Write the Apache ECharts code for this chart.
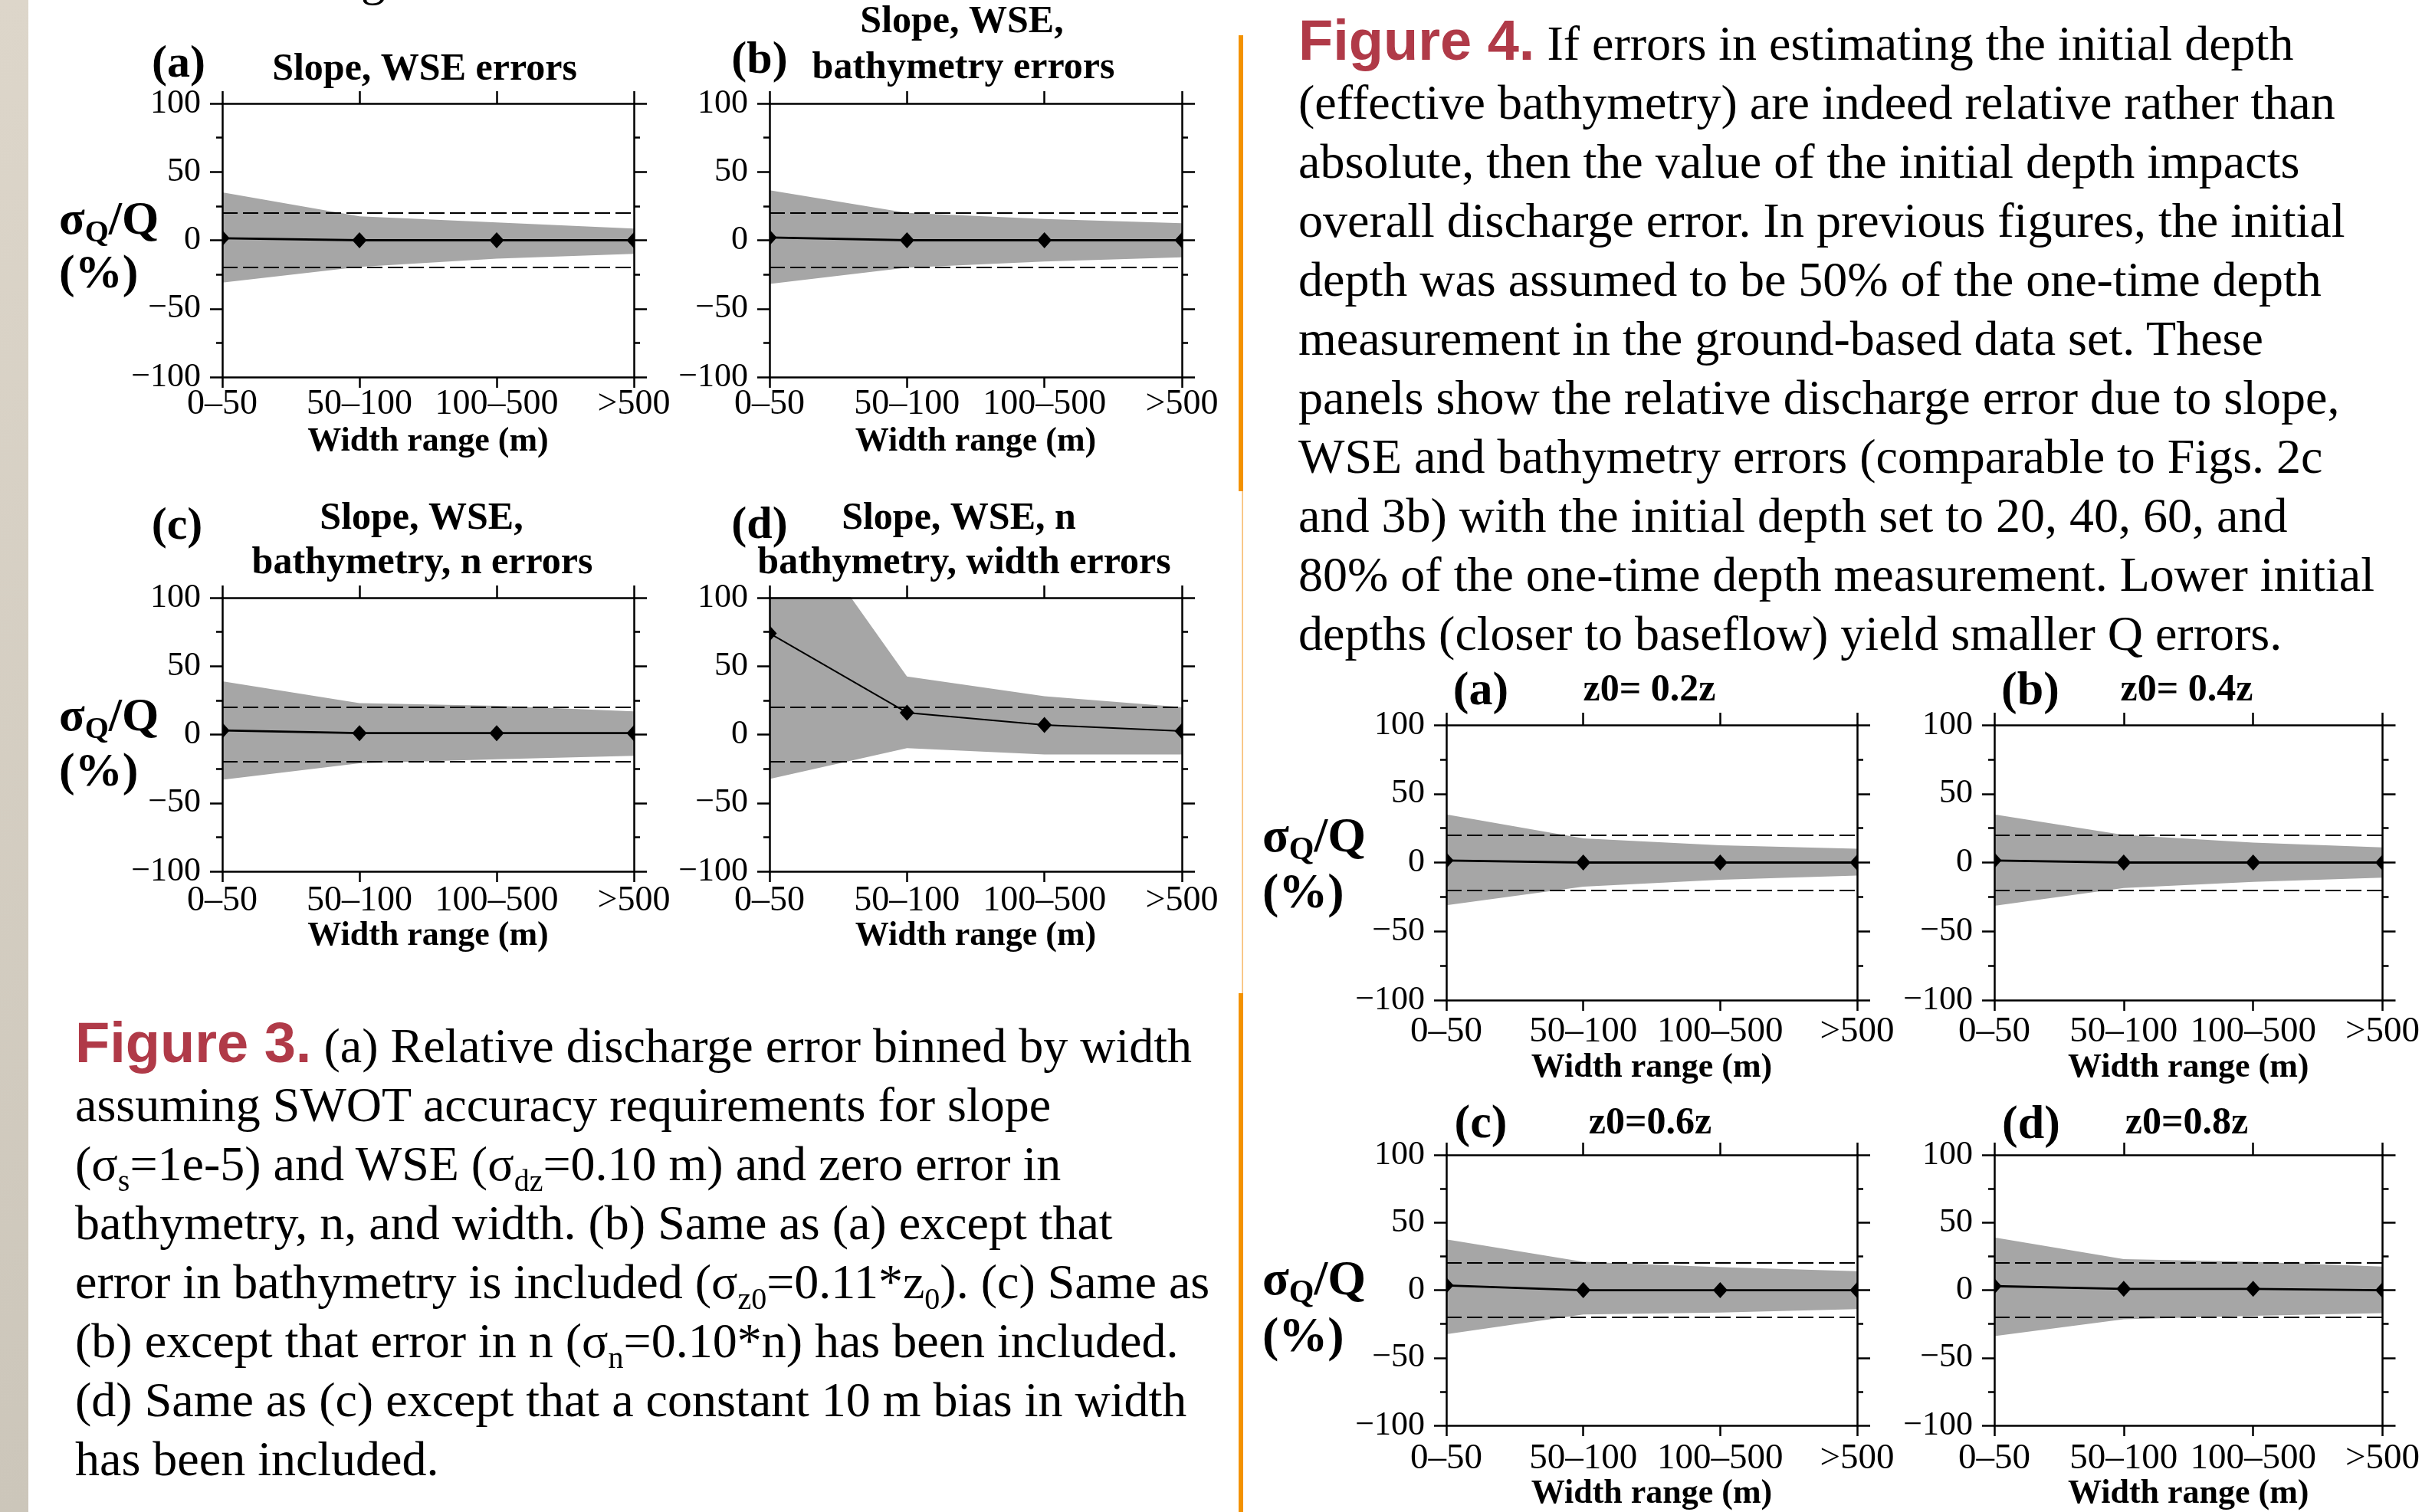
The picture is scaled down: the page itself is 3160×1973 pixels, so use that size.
<!DOCTYPE html>
<html>
<head>
<meta charset="utf-8">
<script src="https://cdn.jsdelivr.net/npm/echarts@6/dist/echarts.min.js"></script>
<style>
  html, body { margin:0; padding:0; background:#fff; }
  #wrap { position:relative; width:3160px; height:1973px; overflow:hidden; background:#fff; }
  #chart { position:absolute; left:0; top:0; width:3160px; height:1973px; }
  .txt { position:absolute; white-space:nowrap; color:#000; font-family:"Liberation Serif", "Times New Roman", serif; }
  .cap { font-size:64px; line-height:77px; }
  .fig { font-family:"Liberation Sans", Arial, sans-serif; font-weight:bold; font-size:74px; color:#b03a48; }
  .cap sub { font-size:40px; vertical-align:-14px; line-height:0; }
  .yname { font-weight:bold; }
  .yname sub { vertical-align:-10px; line-height:0; }
</style>
</head>
<body>
<div id="wrap">
  <div id="chart"></div>

  <div class="txt" style="left:471px; top:-60px; font-size:64px; line-height:64px;">g</div>

  <div class="txt yname" style="left:77px; top:249px; font-size:62px; line-height:70px;">σ<sub style="font-size:40px;">Q</sub>/Q<br>(%)</div>
  <div class="txt yname" style="left:77px; top:896px; font-size:62px; line-height:72px;">σ<sub style="font-size:40px;">Q</sub>/Q<br>(%)</div>
  <div class="txt yname" style="left:1647px; top:1053px; font-size:64px; line-height:73px;">σ<sub style="font-size:42px;">Q</sub>/Q<br>(%)</div>
  <div class="txt yname" style="left:1647px; top:1631px; font-size:64px; line-height:74px;">σ<sub style="font-size:42px;">Q</sub>/Q<br>(%)</div>

  <div class="txt cap" style="left:98px; top:1322px;"><span class="fig">Figure 3.</span> (a) Relative discharge error binned by width<br>assuming SWOT accuracy requirements for slope<br>(σ<sub>s</sub>=1e-5) and WSE (σ<sub>dz</sub>=0.10 m) and zero error in<br>bathymetry, n, and width. (b) Same as (a) except that<br>error in bathymetry is included (σ<sub>z0</sub>=0.11*z<sub>0</sub>). (c) Same as<br>(b) except that error in n (σ<sub>n</sub>=0.10*n) has been included.<br>(d) Same as (c) except that a constant 10 m bias in width<br>has been included.</div>

  <div class="txt cap" style="left:1694px; top:14px;"><span class="fig">Figure 4.</span> If errors in estimating the initial depth<br>(effective bathymetry) are indeed relative rather than<br>absolute, then the value of the initial depth impacts<br>overall discharge error. In previous figures, the initial<br>depth was assumed to be 50% of the one-time depth<br>measurement in the ground-based data set. These<br>panels show the relative discharge error due to slope,<br>WSE and bathymetry errors (comparable to Figs. 2c<br>and 3b) with the initial depth set to 20, 40, 60, and<br>80% of the one-time depth measurement. Lower initial<br>depths (closer to baseflow) yield smaller Q errors.</div>
</div>

<script>
// ---------------- DATA ----------------
const categories = ['0–50', '50–100', '100–500', '>500'];
const yMin = -100, yMax = 100, yStep = 50;
const thresholds = [20, -20];

// Figure 3
const f3aMean  = [1.5, 0, 0, 0];
const f3aUpper = [35, 17.5, 13, 8.5];
const f3aLower = [-31, -19.5, -13.5, -10];

const f3bMean  = [2, 0, 0, 0];
const f3bUpper = [36.5, 20, 15.5, 12.5];
const f3bLower = [-32, -20, -15.5, -12.5];

const f3cMean  = [3, 1, 1, 1];
const f3cUpper = [39, 23, 21, 17];
const f3cLower = [-33, -21, -18, -15.5];

const f3dMean  = [74, 16, 7, 2.5];
const f3dUpper = [184, 42.5, 28, 20];
const f3dLower = [-32.5, -10, -14.5, -14.5];

// Figure 4
const f4aMean  = [1.5, 0, 0, 0];
const f4aUpper = [35, 17.5, 12.5, 10];
const f4aLower = [-31, -17.5, -12.5, -9.5];

const f4bMean  = [1.5, 0, 0, 0];
const f4bUpper = [35, 20, 14.5, 11];
const f4bLower = [-31.5, -18.5, -14, -11];

const f4cMean  = [3.5, 0, 0, 0];
const f4cUpper = [37.5, 21, 17, 14];
const f4cLower = [-32.5, -18, -16.5, -14];

const f4dMean  = [3, 1, 1, 0];
const f4dUpper = [39, 23, 21, 17.5];
const f4dLower = [-34, -21.5, -19, -17];

// ---------------- LAYOUT ----------------
const panels = [
  { grid:{left:290, top:135, width:537, height:357}, lm:13, ng:63, xf:46, mean:f3aMean, up:f3aUpper, lo:f3aLower, mw:2.8 },
  { grid:{left:1004, top:135, width:538, height:357}, lm:13, ng:63, xf:46, mean:f3bMean, up:f3bUpper, lo:f3bLower, mw:2.8 },
  { grid:{left:290, top:780, width:537, height:357}, lm:16, ng:59, xf:46, mean:f3cMean, up:f3cUpper, lo:f3cLower, mw:2.8 },
  { grid:{left:1004, top:780, width:538, height:357}, lm:16, ng:59, xf:46, mean:f3dMean, up:f3dUpper, lo:f3dLower, mw:2 },
  { grid:{left:1887, top:946, width:536, height:359}, lm:18, ng:67, xf:47, mean:f4aMean, up:f4aUpper, lo:f4aLower, mw:2.8 },
  { grid:{left:2602, top:946, width:536, height:359}, lm:18, ng:67, xf:47, mean:f4bMean, up:f4bUpper, lo:f4bLower, mw:2.8 },
  { grid:{left:1887, top:1507, width:536, height:357}, lm:20, ng:56, xf:47, mean:f4cMean, up:f4cUpper, lo:f4cLower, mw:2.8 },
  { grid:{left:2602, top:1507, width:536, height:357}, lm:20, ng:56, xf:47, mean:f4dMean, up:f4dUpper, lo:f4dLower, mw:2.8 }
];

const titles = [
  {t:'(a)', x:233, y:84, s:60}, {t:'Slope, WSE errors', x:554, y:91, s:50},
  {t:'(b)', x:991, y:79, s:60}, {t:'Slope, WSE,', x:1255, y:29, s:50}, {t:'bathymetry errors', x:1257, y:89, s:50},
  {t:'(c)', x:231, y:687, s:60}, {t:'Slope, WSE,', x:550, y:677, s:50}, {t:'bathymetry, n errors', x:551, y:735, s:50},
  {t:'(d)', x:991, y:686, s:60}, {t:'Slope, WSE, n', x:1251, y:677, s:50}, {t:'bathymetry, width errors', x:1258, y:735, s:50},
  {t:'(a)', x:1932, y:903, s:62}, {t:'z0= 0.2z', x:2152, y:901, s:50},
  {t:'(b)', x:2649, y:903, s:62}, {t:'z0= 0.4z', x:2853, y:901, s:50},
  {t:'(c)', x:1932, y:1468, s:62}, {t:'z0=0.6z', x:2153, y:1466, s:50},
  {t:'(d)', x:2650, y:1469, s:62}, {t:'z0=0.8z', x:2853, y:1466, s:50}
];

const FONT = '"Liberation Serif", "Times New Roman", serif';
const BAND = '#a6a6a6';
const AX = { lineStyle:{ color:'#000', width:2.5 } };

const option = {
  animation:false,
  backgroundColor:'#fff',
  grid:[], xAxis:[], yAxis:[], series:[],
  graphic:[]
};

function diamond(params, api) {
  const c = api.coord([api.value(0), api.value(1)]);
  const hw = 9.5, hh = 10.5;
  return {
    type:'polygon',
    shape:{ points:[[c[0], c[1]-hh], [c[0]+hw, c[1]], [c[0], c[1]+hh], [c[0]-hw, c[1]]] },
    style:{ fill:'#000' }
  };
}

panels.forEach((p, i) => {
  option.grid.push(Object.assign({ containLabel:false }, p.grid));
  option.xAxis.push({
    type:'category', data:categories, boundaryGap:false, gridIndex:i, position:'bottom', z:10,
    axisLine:Object.assign({ onZero:false }, AX),
    axisTick:{ show:true, inside:false, length:14, alignWithLabel:true, lineStyle:{color:'#000', width:2.5} },
    axisLabel:{ show:true, interval:0, margin:p.lm, color:'#000', fontFamily:FONT, fontSize:p.xf },
    splitLine:{show:false},
    name:'Width range (m)', nameLocation:'middle', nameGap:p.ng,
    nameTextStyle:{ color:'#000', fontFamily:FONT, fontSize:44, fontWeight:'bold' }
  });
  option.xAxis.push({
    type:'category', data:categories, boundaryGap:false, gridIndex:i, position:'top', z:10,
    axisLine:Object.assign({ onZero:false }, AX),
    axisTick:{ show:true, inside:false, length:16, lineStyle:{color:'#000', width:2.5} },
    axisLabel:{ show:false }, splitLine:{show:false}
  });
  option.yAxis.push({
    type:'value', min:yMin, max:yMax, interval:yStep, gridIndex:i, position:'left', z:10,
    axisLine:Object.assign({ show:true, onZero:false }, AX),
    axisTick:{ show:true, inside:false, length:16, lineStyle:{color:'#000', width:2.5} },
    minorTick:{ show:true, splitNumber:2, length:8, lineStyle:{color:'#000', width:2.5} },
    axisLabel:{ show:true, margin:28, color:'#000', fontFamily:FONT, fontSize:44,
      formatter:v => String(v).replace('-', '\u2212') },
    splitLine:{show:false}, minorSplitLine:{show:false}
  });
  option.yAxis.push({
    type:'value', min:yMin, max:yMax, interval:yStep, gridIndex:i, position:'right', z:10,
    axisLine:Object.assign({ show:true, onZero:false }, AX),
    axisTick:{ show:true, inside:false, length:17, lineStyle:{color:'#000', width:2.5} },
    minorTick:{ show:true, splitNumber:2, length:8, lineStyle:{color:'#000', width:2.5} },
    axisLabel:{ show:false }, splitLine:{show:false}, minorSplitLine:{show:false}
  });

  const xi = i * 2, yi = i * 2;
  const spread = p.up.map((u, k) => u - p.lo[k]);
  option.series.push({
    type:'line', xAxisIndex:xi, yAxisIndex:yi, data:p.lo, stack:'band'+i, stackStrategy:'all',
    symbol:'none', lineStyle:{opacity:0}, silent:true, z:1, clip:true
  });
  option.series.push({
    type:'line', xAxisIndex:xi, yAxisIndex:yi, data:spread, stack:'band'+i, stackStrategy:'all',
    symbol:'none', lineStyle:{opacity:0}, areaStyle:{color:BAND, opacity:1}, silent:true, z:1, clip:true
  });
  option.series.push({
    type:'line', xAxisIndex:xi, yAxisIndex:yi, data:p.mean,
    symbol:'none', clip:true,
    lineStyle:{color:'#000', width:p.mw}, z:4, silent:true,
    markLine:{
      silent:true, symbol:'none', label:{show:false},
      lineStyle:{ color:'#000', width:2.2, type:[20, 7] },
      data: thresholds.map(v => ({ yAxis:v }))
    }
  });
  option.series.push({
    type:'custom', xAxisIndex:xi, yAxisIndex:yi, clip:true, z:5, silent:true,
    data:p.mean.map((v, k) => [k, v]),
    encode:{ x:0, y:1 },
    renderItem:diamond
  });
});

option.graphic.push({ type:'rect', shape:{x:0, y:0, width:37, height:1973},
  style:{ fill:{ type:'linear', x:0, y:0, x2:0, y2:1, colorStops:[{offset:0, color:'#ddd6ca'}, {offset:1, color:'#ccc6ba'}] } }, silent:true, z:0 });
option.graphic.push({ type:'rect', shape:{x:1616, y:46, width:6, height:595}, style:{fill:'#f39200'}, silent:true });
option.graphic.push({ type:'rect', shape:{x:1620.5, y:641, width:1.2, height:655}, style:{fill:'#f5a640'}, silent:true });
option.graphic.push({ type:'rect', shape:{x:1616, y:1296, width:6, height:677}, style:{fill:'#f39200'}, silent:true });

titles.forEach(tt => {
  option.graphic.push({
    type:'text', x:tt.x, y:tt.y, silent:true, z:20,
    style:{ text:tt.t, fill:'#000', font:'bold ' + tt.s + 'px ' + FONT,
      textAlign:'center', textVerticalAlign:'middle', verticalAlign:'middle', align:'center' }
  });
});

const chart = echarts.init(document.getElementById('chart'), null, { renderer:'canvas', width:3160, height:1973 });
chart.setOption(option);
</script>
</body>
</html>
